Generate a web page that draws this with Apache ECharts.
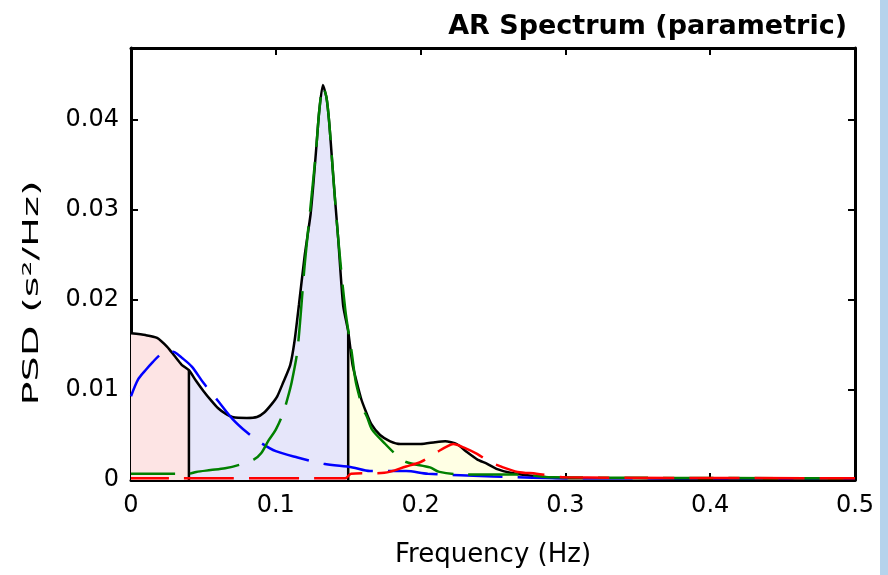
<!DOCTYPE html>
<html>
<head>
<meta charset="utf-8">
<script src="https://cdn.jsdelivr.net/npm/echarts@6/dist/echarts.min.js"></script>
<style>
html,body{margin:0;padding:0;background:#fff;}
#chart{width:888px;height:575px;}
</style>
</head>
<body>
<div id="chart"></div>
<script>
// ---- data ----
const titleText = 'AR Spectrum (parametric)';
const xName = 'Frequency (Hz)';
const yName = 'PSD (s\u00B2/Hz)';
const xTicks = [0, 0.1, 0.2, 0.3, 0.4, 0.5];
const yTicks = [0, 0.01, 0.02, 0.03, 0.04];
const bandEdges = [0, 0.04, 0.15, 0.4]; // VLF | LF | HF

// total PSD (black)
const totalFreq = [0, 0.01, 0.018, 0.025, 0.03, 0.035, 0.04, 0.045, 0.05, 0.055, 0.06, 0.065, 0.07, 0.08, 0.087, 0.092, 0.097, 0.101, 0.105, 0.11, 0.113, 0.116, 0.12, 0.124, 0.126, 0.128, 0.13, 0.1325, 0.135, 0.137, 0.139, 0.141, 0.143, 0.1465, 0.15, 0.153, 0.156, 0.159, 0.162, 0.166, 0.172, 0.179, 0.186, 0.2, 0.21, 0.217, 0.225, 0.232, 0.239, 0.246, 0.253, 0.262, 0.275, 0.287, 0.3, 0.35, 0.4, 0.45, 0.5];
const totalPsd  = [0.0163, 0.0161, 0.0158, 0.0148, 0.0138, 0.0128, 0.0122, 0.011, 0.0099, 0.0089, 0.008, 0.0074, 0.0070, 0.0069, 0.0070, 0.0075, 0.0084, 0.0093, 0.0108, 0.0128, 0.0155, 0.0195, 0.025, 0.0295, 0.033, 0.037, 0.041, 0.0439, 0.0425, 0.0395, 0.0352, 0.031, 0.027, 0.0194, 0.0165, 0.0128, 0.0108, 0.009, 0.0077, 0.0062, 0.005, 0.0043, 0.0040, 0.0040, 0.0042, 0.0043, 0.0040, 0.0031, 0.0023, 0.0018, 0.0012, 0.0008, 0.0005, 0.0003, 0.0002, 0.0002, 0.0002, 0.0002, 0.0002];

// VLF component (blue)
const vlfFreq = [0, 0.005, 0.01, 0.015, 0.02, 0.025, 0.03, 0.035, 0.042, 0.05, 0.06, 0.07, 0.08, 0.09, 0.1, 0.115, 0.133, 0.153, 0.165, 0.19, 0.205, 0.25, 0.3, 0.5];
const vlfPsd  = [0.0093, 0.0112, 0.0122, 0.0131, 0.0139, 0.0144, 0.0142, 0.0136, 0.0126, 0.0108, 0.0088, 0.0068, 0.0053, 0.0041, 0.0032, 0.0025, 0.0018, 0.0014, 0.0010, 0.0010, 0.0007, 0.0004, 0.0002, 0.0002];

// LF component (green)
const lfFreq = [0, 0.04, 0.045, 0.055, 0.065, 0.075, 0.085, 0.09, 0.095, 0.1, 0.105, 0.108, 0.111, 0.115, 0.12, 0.125, 0.128, 0.13, 0.1325, 0.135, 0.137, 0.14, 0.143, 0.148, 0.1525, 0.155, 0.157, 0.16, 0.163, 0.1665, 0.175, 0.1825, 0.19, 0.2065, 0.213, 0.23, 0.27, 0.29, 0.5];
const lfPsd  = [0.0007, 0.0007, 0.0009, 0.0011, 0.0013, 0.0017, 0.0023, 0.003, 0.0044, 0.0056, 0.0074, 0.009, 0.0109, 0.0145, 0.024, 0.032, 0.037, 0.041, 0.0437, 0.0425, 0.0395, 0.033, 0.027, 0.0189, 0.0141, 0.0111, 0.0097, 0.008, 0.007, 0.0056, 0.0041, 0.0029, 0.002, 0.0014, 0.0009, 0.0006, 0.0006, 0.0003, 0.0002];

// HF component (red)
const hfFreq = [0, 0.148, 0.152, 0.175, 0.19, 0.2, 0.2065, 0.2135, 0.218, 0.2225, 0.23, 0.239, 0.248, 0.257, 0.267, 0.28, 0.3, 0.5];
const hfPsd  = [0.0002, 0.0002, 0.0007, 0.0008, 0.0015, 0.002, 0.0026, 0.0033, 0.0037, 0.0040, 0.0036, 0.0029, 0.002, 0.0014, 0.0009, 0.0007, 0.0003, 0.0002];

const bandColors = ['#fde4e4', '#e6e6fa', '#ffffe4'];

// ---- build ----
const pairs = (fx, py) => fx.map((f, i) => [f, py[i]]);
const totalPts = pairs(totalFreq, totalPsd);
function bandSlice(lo, hi) {
  return totalPts.filter(p => p[0] >= lo && p[0] <= hi);
}
function psdAt(f) {
  const i = totalFreq.indexOf(f);
  return totalPsd[i];
}

const FONT = 'DejaVu Sans';
const series = [];
for (let b = 0; b < 3; b++) {
  series.push({
    type: 'line', data: bandSlice(bandEdges[b], bandEdges[b + 1]),
    symbol: 'none', smooth: 0.2, lineStyle: { width: 0 },
    areaStyle: { color: bandColors[b], opacity: 1 }, silent: true, z: 1
  });
}
series.push({
  type: 'line', data: totalPts, symbol: 'none', smooth: 0.2,
  lineStyle: { color: '#000', width: 2.5 }, z: 3
});
[bandEdges[1], bandEdges[2]].forEach(f => {
  series.push({
    type: 'line', data: [[f, 0], [f, psdAt(f)]], symbol: 'none',
    lineStyle: { color: '#000', width: 2.5 }, z: 3
  });
});
const comps = [[vlfFreq, vlfPsd, '#0000ff'], [lfFreq, lfPsd, '#008000'], [hfFreq, hfPsd, '#ff0000']];
comps.forEach(([fx, py, c], k) => {
  series.push({
    type: 'line', data: pairs(fx, py), symbol: 'none', smooth: 0.3,
    lineStyle: { color: c, width: 2.5, type: [50, 15], dashOffset: k * 6 }, z: 4 + k
  });
});

const axisCommon = {
  axisLine: { show: true, onZero: false, lineStyle: { color: '#000', width: 3 } },
  axisTick: { show: true, inside: true, length: 7, lineStyle: { color: '#000', width: 2 } },
  splitLine: { show: false }
};
const fmt = v => String(parseFloat(v.toFixed(3)));

const chart = echarts.init(document.getElementById('chart'));
chart.setOption({
  backgroundColor: '#fff',
  animation: false,
  title: {
    text: titleText, right: 36, top: 8,
    textStyle: { fontFamily: FONT, fontWeight: 'bold', fontSize: 27, color: '#000' }
  },
  grid: { left: 131, right: 33, top: 48, bottom: 95 },
  xAxis: [
    Object.assign({
      type: 'value', min: xTicks[0], max: xTicks[xTicks.length - 1], interval: 0.1, position: 'bottom',
      name: xName, nameLocation: 'middle', nameGap: 62,
      nameTextStyle: { fontFamily: FONT, fontSize: 26, color: '#000' },
      axisLabel: { show: true, margin: 14, fontFamily: FONT, fontSize: 24, color: '#000', formatter: fmt }
    }, axisCommon),
    Object.assign({
      type: 'value', min: xTicks[0], max: xTicks[xTicks.length - 1], interval: 0.1, position: 'top',
      axisLabel: { show: false }
    }, axisCommon)
  ],
  yAxis: [
    Object.assign({
      type: 'value', min: 0, max: 0.048, interval: 0.01, position: 'left',
      axisLabel: { show: true, margin: 12, fontFamily: FONT, fontSize: 24, color: '#000', showMaxLabel: false, formatter: fmt }
    }, axisCommon),
    Object.assign({
      type: 'value', min: 0, max: 0.048, interval: 0.01, position: 'right',
      axisLabel: { show: false }
    }, axisCommon)
  ],
  graphic: [
    { type: 'rect', right: 0, top: 0, shape: { width: 8, height: 575 }, style: { fill: '#b5d3ec' }, z: 0 },
    {
      type: 'text', x: 33, y: 293, rotation: Math.PI / 2, scaleX: 1.9,
      style: { text: yName, font: '21px "DejaVu Sans"', fill: '#000', align: 'center', verticalAlign: 'middle', textAlign: 'center', textVerticalAlign: 'middle' }
    }
  ],
  series: series
});
</script>
</body>
</html>
